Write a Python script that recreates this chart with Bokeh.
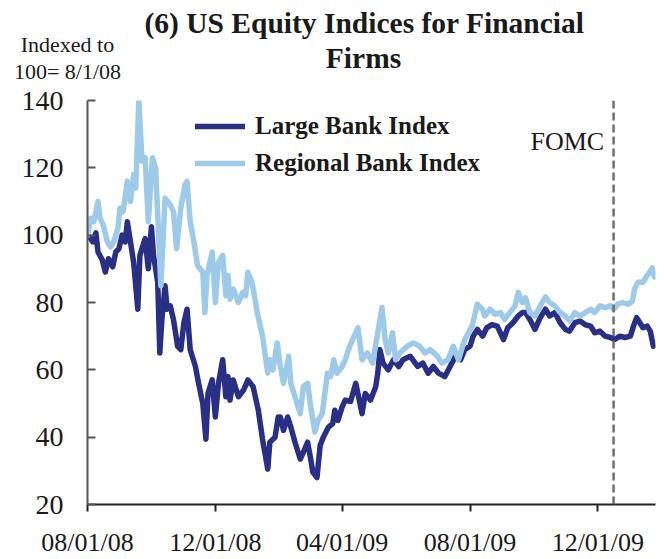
import pandas as pd
from bokeh.plotting import figure
from bokeh.layouts import column
from bokeh.models import (ColumnDataSource, Span, Label, FixedTicker, Legend, LegendItem,
                          Range1d, DatetimeTickFormatter)
from bokeh.embed import file_html
from bokeh.resources import INLINE

# ---------------- data ----------------
large_dates = [
    "2008-08-01", "2008-08-04", "2008-08-06", "2008-08-09", "2008-08-11", "2008-08-15", "2008-08-18",
    "2008-08-21", "2008-08-25", "2008-08-28", "2008-08-31", "2008-09-03", "2008-09-06", "2008-09-08",
    "2008-09-11", "2008-09-14", "2008-09-18", "2008-09-20", "2008-09-25", "2008-09-28", "2008-10-01",
    "2008-10-03", "2008-10-07", "2008-10-09", "2008-10-11", "2008-10-14", "2008-10-16", "2008-10-19",
    "2008-10-22", "2008-10-26", "2008-10-29", "2008-11-01", "2008-11-04", "2008-11-07", "2008-11-12",
    "2008-11-15", "2008-11-19", "2008-11-22", "2008-11-24", "2008-11-28", "2008-12-01", "2008-12-04",
    "2008-12-08", "2008-12-11", "2008-12-13", "2008-12-15", "2008-12-18", "2008-12-23", "2008-12-28",
    "2009-01-01", "2009-01-06", "2009-01-11", "2009-01-15", "2009-01-20", "2009-01-22", "2009-01-27",
    "2009-01-30", "2009-02-01", "2009-02-04", "2009-02-08", "2009-02-11", "2009-02-15", "2009-02-20",
    "2009-02-23", "2009-02-27", "2009-03-02", "2009-03-04", "2009-03-08", "2009-03-11", "2009-03-14",
    "2009-03-19", "2009-03-23", "2009-03-25", "2009-03-28", "2009-04-01", "2009-04-04", "2009-04-09",
    "2009-04-14", "2009-04-16", "2009-04-20", "2009-04-23", "2009-04-28", "2009-05-03", "2009-05-05",
    "2009-05-07", "2009-05-10", "2009-05-15", "2009-05-20", "2009-05-25", "2009-05-29", "2009-06-05",
    "2009-06-12", "2009-06-17", "2009-06-22", "2009-06-27", "2009-07-02", "2009-07-08", "2009-07-13",
    "2009-07-18", "2009-07-23", "2009-07-27", "2009-08-01", "2009-08-04", "2009-08-08", "2009-08-13",
    "2009-08-17", "2009-08-22", "2009-08-27", "2009-08-30", "2009-09-02", "2009-09-06", "2009-09-11",
    "2009-09-16", "2009-09-20", "2009-09-23", "2009-09-27", "2009-10-02", "2009-10-07", "2009-10-12",
    "2009-10-16", "2009-10-21", "2009-10-26", "2009-10-31", "2009-11-04", "2009-11-09", "2009-11-14",
    "2009-11-19", "2009-11-24", "2009-11-28", "2009-12-03", "2009-12-08", "2009-12-13", "2009-12-17",
    "2009-12-22", "2009-12-27", "2010-01-01", "2010-01-04", "2010-01-07", "2010-01-10", "2010-01-13",
    "2010-01-17", "2010-01-20", "2010-01-23",
]
large_values = [
    100, 99, 98, 100.7, 95, 92.7, 89,
    93, 90.6, 95, 96, 100, 98, 104,
    98, 92, 78, 94, 99, 90, 102.5,
    94, 86, 65, 75, 85, 78, 79,
    75, 67, 66, 74, 78, 66, 61,
    56, 50, 39.4, 53, 57, 46, 56,
    63, 52, 58, 51, 57, 52, 54,
    57, 55, 48, 39.4, 30.5, 38.5, 40,
    46, 46, 42, 46, 43, 38.5, 33.5,
    35.5, 38.5, 33.5, 29.6, 28, 37.5, 40,
    43, 44, 48, 45, 49, 51, 50.6,
    56, 53, 47, 53, 51, 55, 59,
    66, 62, 60, 63, 61, 63, 64,
    61, 62, 59, 61, 59, 58, 61,
    64, 63, 66, 67, 70, 72, 70,
    72.5, 73.4, 73, 71, 69, 72.5, 74,
    76, 77, 77, 75, 72, 75.5, 78,
    76, 77, 74, 72, 71.5, 74, 74.5,
    73.4, 73, 71, 71.5, 70, 69.6, 69,
    70, 69.6, 70, 73, 75.5, 74, 72.5,
    73, 71.5, 67,
]

regional_dates = [
    "2008-08-01", "2008-08-04", "2008-08-07", "2008-08-11", "2008-08-13", "2008-08-16", "2008-08-20",
    "2008-08-23", "2008-08-26", "2008-08-30", "2008-09-01", "2008-09-04", "2008-09-08", "2008-09-11",
    "2008-09-14", "2008-09-16", "2008-09-19", "2008-09-22", "2008-09-25", "2008-09-28", "2008-10-02",
    "2008-10-05", "2008-10-10", "2008-10-14", "2008-10-19", "2008-10-22", "2008-10-25", "2008-10-29",
    "2008-11-02", "2008-11-04", "2008-11-07", "2008-11-10", "2008-11-14", "2008-11-19", "2008-11-21",
    "2008-11-23", "2008-11-28", "2008-12-01", "2008-12-04", "2008-12-08", "2008-12-11", "2008-12-13",
    "2008-12-15", "2008-12-18", "2008-12-23", "2008-12-27", "2008-12-30", "2009-01-01", "2009-01-05",
    "2009-01-10", "2009-01-15", "2009-01-20", "2009-01-22", "2009-01-25", "2009-01-29", "2009-02-01",
    "2009-02-04", "2009-02-09", "2009-02-11", "2009-02-15", "2009-02-20", "2009-02-23", "2009-02-27",
    "2009-03-02", "2009-03-06", "2009-03-09", "2009-03-13", "2009-03-18", "2009-03-21", "2009-03-24",
    "2009-03-27", "2009-04-01", "2009-04-04", "2009-04-07", "2009-04-11", "2009-04-14", "2009-04-16",
    "2009-04-20", "2009-04-25", "2009-04-30", "2009-05-05", "2009-05-09", "2009-05-12", "2009-05-15",
    "2009-05-19", "2009-05-22", "2009-05-26", "2009-06-02", "2009-06-08", "2009-06-14", "2009-06-19",
    "2009-06-24", "2009-07-01", "2009-07-05", "2009-07-11", "2009-07-16", "2009-07-21", "2009-07-27",
    "2009-08-01", "2009-08-03", "2009-08-08", "2009-08-13", "2009-08-15", "2009-08-20", "2009-08-25",
    "2009-08-30", "2009-09-03", "2009-09-08", "2009-09-13", "2009-09-16", "2009-09-20", "2009-09-23",
    "2009-09-27", "2009-10-02", "2009-10-07", "2009-10-12", "2009-10-16", "2009-10-21", "2009-10-26",
    "2009-10-31", "2009-11-04", "2009-11-09", "2009-11-14", "2009-11-19", "2009-11-24", "2009-11-28",
    "2009-12-03", "2009-12-08", "2009-12-13", "2009-12-16", "2009-12-20", "2009-12-25", "2009-12-30",
    "2010-01-03", "2010-01-05", "2010-01-08", "2010-01-13", "2010-01-17", "2010-01-19", "2010-01-22",
    "2010-01-24",
]
regional_values = [
    100, 105, 104, 110, 105, 103, 98,
    96.5, 98, 102, 108, 107, 116, 110,
    118, 114, 140, 122, 123, 104, 123,
    120, 85, 111, 109, 107, 96, 108,
    115, 116, 104, 99, 91, 89, 77,
    88, 95, 80, 92, 94, 82, 88,
    81, 84, 80, 83, 82, 89, 86,
    77, 70, 59, 63, 60, 68, 61,
    56, 64, 56, 52, 47, 55, 56,
    49, 41.5, 45, 47, 59, 58, 63,
    59, 61, 63, 66, 69, 71, 72.5,
    63, 65, 62, 71, 78.5, 69, 65,
    71, 63, 65, 67, 68, 67, 65,
    66, 64, 62, 63, 67, 63, 69,
    72, 73, 79.5, 78, 76, 78, 76.5,
    77, 75, 77, 79, 83, 80, 81.4,
    77, 76, 79, 81.7, 80, 79, 77,
    76, 74.5, 77, 76, 77, 78, 77,
    79, 78.5, 79, 78, 79.5, 80, 79.5,
    80.4, 84, 86, 86, 88, 88.8, 90.3,
    87.6,
]

tick_dates = ["2008-08-01", "2008-12-01", "2009-04-01", "2009-08-01", "2009-12-01"]
tick_labels = ["08/01/08", "12/01/08", "04/01/09", "08/01/09", "12/01/09"]
y_ticks = [20, 40, 60, 80, 100, 120, 140]
fomc_date = "2009-12-16"
x_start, x_end = "2008-08-01", "2010-01-25"
y_start, y_end = 20, 140

title_lines = ["(6) US Equity Indices for Financial", "Firms"]
unit_lines = ["Indexed to", "100= 8/1/08"]


def ms(d):
    return pd.Timestamp(d).value / 1e6


LARGE_COLOR = "#2a2f86"
REGIONAL_COLOR = "#9ecae9"
SERIF = "Liberation Serif"
TEXT = "#1a1a1a"
W = 664
H = 559
HEADER_H = 83
FRAME_L, FRAME_R = 87, 655

# ---------------- header (title + units note) ----------------
hdr = figure(width=W, height=HEADER_H, x_range=Range1d(0, W), y_range=Range1d(HEADER_H, 0),
             output_backend="svg", toolbar_location=None,
             x_axis_location=None, y_axis_location=None,
             min_border_left=0, min_border_right=0, min_border_top=0, min_border_bottom=0)
hdr.outline_line_color = None
hdr.xgrid.visible = False
hdr.ygrid.visible = False

for txt, (cx, cy) in zip(title_lines, [(364, 22), (363, 57)]):
    hdr.add_layout(Label(x=cx, y=cy, text=txt, text_align="center", text_baseline="middle",
                         text_font=SERIF, text_font_style="bold", text_font_size="29.5px",
                         text_color=TEXT))
for txt, (cx, cy) in zip(unit_lines, [(67, 44), (67, 70.5)]):
    hdr.add_layout(Label(x=cx, y=cy, text=txt, text_align="center", text_baseline="middle",
                         text_font=SERIF, text_font_size="22px", text_color=TEXT))

# ---------------- main chart ----------------
p = figure(width=W, height=H - HEADER_H, x_axis_type="datetime",
           x_range=Range1d(ms(x_start), ms(x_end)), y_range=Range1d(y_start, y_end),
           output_backend="svg", toolbar_location=None,
           min_border_left=FRAME_L, min_border_right=W - FRAME_R,
           min_border_top=100 - HEADER_H, min_border_bottom=53)

# keep the header's frame independent of the chart's frame
for fig in (hdr, p):
    if "frame_align" in fig.properties():
        fig.frame_align = False

p.outline_line_color = None
p.xgrid.visible = False
p.ygrid.visible = False

src_large = ColumnDataSource(dict(x=pd.to_datetime(large_dates), y=large_values))
src_reg = ColumnDataSource(dict(x=pd.to_datetime(regional_dates), y=regional_values))

r_large = p.line("x", "y", source=src_large, line_color=LARGE_COLOR, line_width=5.5,
                 line_join="round", line_cap="round")
r_reg = p.line("x", "y", source=src_reg, line_color=REGIONAL_COLOR, line_width=5.5,
               line_join="round", line_cap="round")

p.add_layout(Span(location=ms(fomc_date), dimension="height", line_color="#6e6e6e",
                  line_width=2.5, line_dash="8 4"))

xa = p.xaxis[0]
xa.ticker = FixedTicker(ticks=[ms(d) for d in tick_dates])
fmt = "%m/%d/%y"
xa.formatter = DatetimeTickFormatter(days=fmt, months=fmt, years=fmt, hours=fmt,
                                     minutes=fmt, seconds=fmt, milliseconds=fmt,
                                     microseconds=fmt, minsec=fmt, hourmin=fmt)
xa.major_label_overrides = {ms(d): lab for d, lab in zip(tick_dates, tick_labels)}
xa.axis_line_color = "#222222"
xa.axis_line_width = 2
xa.major_tick_line_color = "#222222"
xa.major_tick_line_width = 2
xa.major_tick_in = 0
xa.major_tick_out = 7
xa.minor_tick_line_color = None
xa.major_label_text_font = SERIF
xa.major_label_text_font_size = "26px"
xa.major_label_text_color = TEXT
xa.major_label_standoff = 16

ya = p.yaxis[0]
ya.ticker = FixedTicker(ticks=y_ticks)
ya.axis_line_color = "#555555"
ya.axis_line_width = 2
ya.major_tick_line_color = "#555555"
ya.major_tick_line_width = 2
ya.major_tick_in = 8
ya.major_tick_out = 0
ya.minor_tick_line_color = None
ya.major_label_text_font = SERIF
ya.major_label_text_font_size = "28px"
ya.major_label_text_color = TEXT
ya.major_label_standoff = 24

p.add_layout(Label(x=ms("2009-12-07"), y=127.9, text="FOMC", text_align="right",
                   text_baseline="middle", text_font=SERIF, text_font_size="26px",
                   text_color=TEXT))

legend = Legend(items=[LegendItem(label="Large Bank Index", renderers=[r_large]),
                       LegendItem(label="Regional Bank Index", renderers=[r_reg])],
                location=(108, 326), orientation="vertical")
legend.label_text_font = SERIF
legend.label_text_font_style = "bold"
legend.label_text_font_size = "25px"
legend.label_text_color = TEXT
legend.glyph_width = 50
legend.glyph_height = 30
legend.label_height = 30
legend.spacing = 7
legend.padding = 0
legend.margin = 0
legend.label_standoff = 10
legend.border_line_color = None
legend.background_fill_alpha = 0
p.add_layout(legend)

layout = column(hdr, p, spacing=0)
open("out.html", "w").write(file_html(layout, INLINE))
